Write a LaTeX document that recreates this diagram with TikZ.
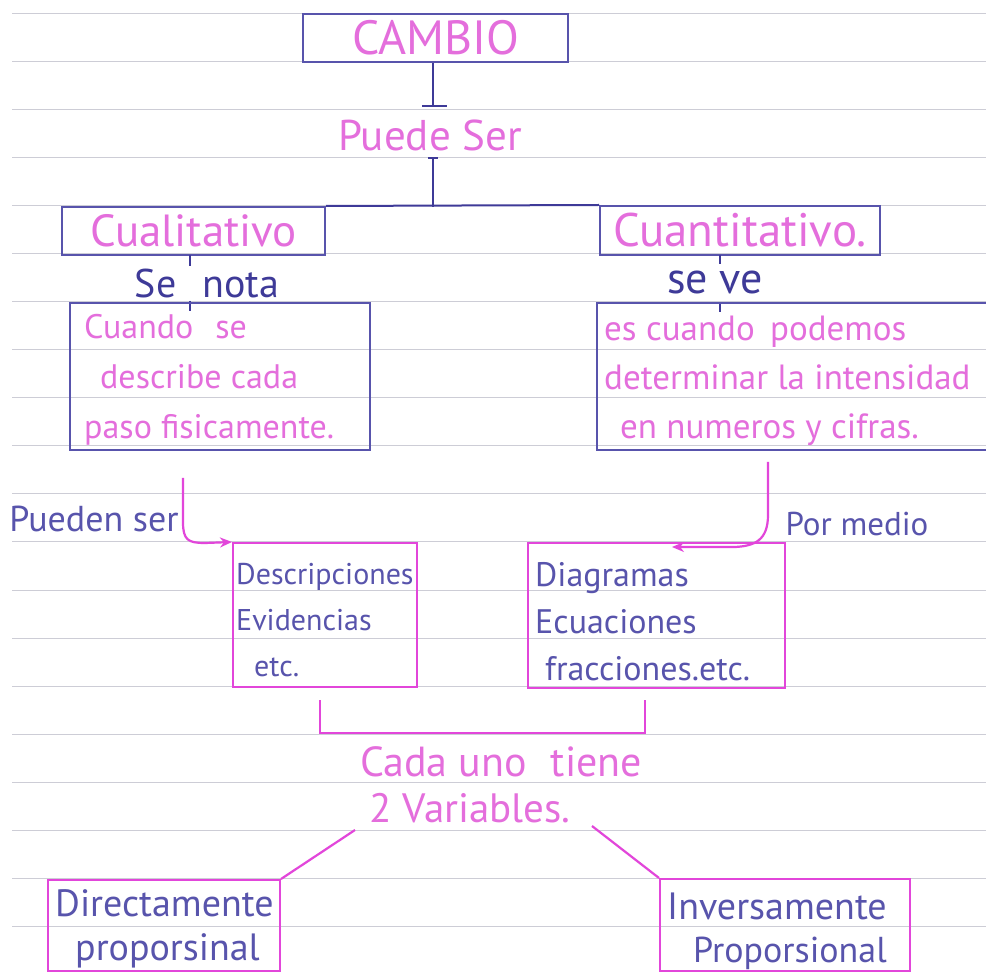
\documentclass[tikz,border=0pt]{standalone}
\usepackage{fontspec}
\setmainfont{PT Sans}
\usetikzlibrary{arrows.meta}
\definecolor{ink}{RGB}{88,84,172}
\definecolor{inkdark}{RGB}{62,58,152}
\definecolor{pinkink}{RGB}{228,110,220}
\definecolor{pinkline}{RGB}{226,70,218}
\definecolor{rule}{RGB}{205,205,214}
\tikzset{
  bluebox/.style={draw=ink, line width=2pt, inner sep=0pt},
  pinkbox/.style={draw=pinkline, line width=2pt, inner sep=0pt},
  pinktext/.style={text=pinkink, inner sep=0pt},
  bluetext/.style={text=ink, inner sep=0pt},
  darktext/.style={text=inkdark, inner sep=0pt},
  blueline/.style={draw=inkdark, line width=2pt},
  pinkconn/.style={draw=pinkline, line width=2.2pt},
  ruling/.style={draw=rule, line width=1pt}
}
\newcommand{\fs}[1]{\fontsize{#1}{#1}\selectfont}
\begin{document}
\begin{tikzpicture}[x=1pt,y=-1pt]
\useasboundingbox (0,0) rectangle (986,973);
\fill[white] (0,0) rectangle (986,973);
% ruled notebook lines
\foreach \k in {0,...,19}
  \draw[ruling] (12,14+48*\k) -- (986,14+48*\k);

% top level
\node[bluebox, minimum width=265pt, minimum height=48pt, text=pinkink, font=\fs{48}]
  (cambio) at (435.5,38) {CAMBIO};
\node[pinktext, font=\fs{43}] (puede) at (430,135) {Puede Ser};
\coordinate (t1) at (433,106);
\coordinate (t2) at (433,158);
\draw[blueline] (cambio.south -| t1) -- (t1);
\draw[blueline] (422,106) -- (447,106);
\draw[blueline] (428,158) -- (438,158);
\draw[blueline] (t2) -- (433,207);

% second level
\node[bluebox, minimum width=263pt, minimum height=48pt, text=pinkink, font=\fs{45}]
  (cual) at (193.5,231) {Cualitativo};
\node[bluebox, minimum width=280pt, minimum height=49pt, text=pinkink, font=\fs{47}]
  (cuan) at (740,230.5) {Cuantitativo.};
\draw[blueline] (cual.north east) -- (cuan.north west);

% link labels
\node[darktext, font=\fs{40}] (senota) at (207,284) {Se\hspace{26pt}nota};
\node[darktext, font=\fs{44}] (seve) at (715,283) {se ve};
\draw[blueline] (190,255) -- (190,266);
\draw[blueline] (190,301) -- (190,311);
\draw[blueline] (720,255) -- (720,264);
\draw[blueline] (720,303) -- (720,312);

% descriptions
\node[bluebox, minimum width=300pt, minimum height=147pt] (boxL) at (220,376.5) {};
\node[pinktext, font=\fontsize{34}{50}\selectfont, align=left, anchor=west]
  (txtL) at (84,380) {Cuando\hspace{22pt}se\\\hspace*{16pt}describe cada\\paso fisicamente.};
\node[bluebox, minimum width=393pt, minimum height=147pt] (boxR) at (793.5,376.5) {};
\node[pinktext, font=\fontsize{35}{49}\selectfont, align=left, anchor=west]
  (txtR) at (604,381) {es cuando\hspace{6pt} podemos\\determinar la intensidad\\\hspace*{16pt}en numeros y cifras.};

% connector labels
\node[bluetext, font=\fs{36}] (pueden) at (94,519) {Pueden ser};
\node[bluetext, font=\fs{33}] (pormedio) at (857,524) {Por medio};

% third level
\node[pinkbox, minimum width=184pt, minimum height=144pt] (desc) at (325,615) {};
\node[bluetext, font=\fontsize{30}{46}\selectfont, align=left, anchor=west]
  (txtD) at (236,620) {Descripciones\\Evidencias\\\hspace*{18pt}etc.};
\node[pinkbox, minimum width=257pt, minimum height=145pt] (diag) at (656.5,615.5) {};
\node[bluetext, font=\fontsize{34}{47}\selectfont, align=left, anchor=west]
  (txtG) at (535,622) {Diagramas\\Ecuaciones\\\hspace*{10pt}fracciones.etc.};

\coordinate (aL) at (183,478);
\coordinate (aR) at (768,462);
\draw[pinkconn, -{Stealth[length=12pt,width=10pt]}]
  (aL) -- (183,522) .. controls (183,540) and (188,543) .. (205,543) -- (desc.north west);
\draw[pinkconn, -{Stealth[length=12pt,width=10pt]}]
  (aR) -- (768,515) .. controls (768,540) and (755,546) .. (735,547) -- (672,547);

% bracket joining both boxes
\coordinate (bL) at (320,700);
\coordinate (bR) at (645,700);
\draw[pinkconn, line width=2.6pt] (bL) -- (320,733) -- (645,733) -- (bR);

\node[pinktext, font=\fs{42}] (cada) at (501,762) {Cada uno\hspace{24pt}tiene};
\node[pinktext, font=\fs{41}] (vars) at (470,808) {2 Variables.};

% bottom level
\node[pinkbox, minimum width=232pt, minimum height=91pt] (dir) at (164,925.5) {};
\node[bluetext, font=\fontsize{38}{44}\selectfont, align=left, anchor=west]
  (txtDir) at (55,929) {Directamente\\\hspace*{20pt}proporsinal};
\node[pinkbox, minimum width=250pt, minimum height=92pt] (inv) at (785,925) {};
\node[bluetext, font=\fontsize{38}{43}\selectfont, align=left, anchor=west]
  (txtInv) at (667,931) {Inversamente\\\hspace*{26pt}{\fontsize{36}{43}\selectfont Proporsional}};

\coordinate (dL) at (355,830);
\coordinate (dR) at (592,826);
\draw[pinkconn] (dL) -- (dir.north east);
\draw[pinkconn] (dR) -- (inv.north west);
\end{tikzpicture}
\end{document}
